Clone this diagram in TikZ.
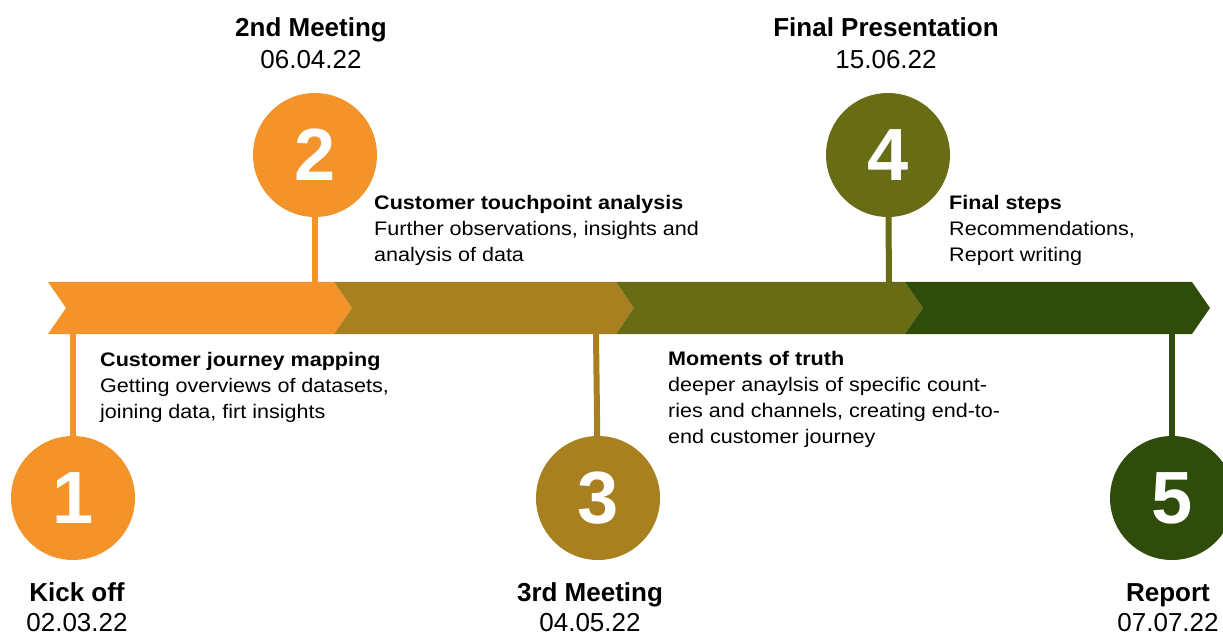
\documentclass[tikz,border=0pt]{standalone}
\usepackage{fontspec}
\setmainfont{Liberation Sans}
\newfontfamily\infofont[FakeStretch=1.1]{Liberation Sans}
\usetikzlibrary{positioning}
\definecolor{phaseA}{HTML}{F4932A}
\definecolor{phaseB}{HTML}{A8801F}
\definecolor{phaseC}{HTML}{676C15}
\definecolor{phaseD}{HTML}{2F4C0B}
\tikzset{
    milestone/.style={circle, minimum size=124pt, inner sep=0pt, text=white,
        font=\fontsize{74}{74}\selectfont\bfseries}, % numbered circles
    stem/.style={line width=6pt}, % line from circle to the band
    title/.style={anchor=base, inner sep=0pt, font=\fontsize{26}{30}\selectfont\bfseries},
    date/.style={anchor=base, inner sep=0pt, font=\fontsize{26}{30}\selectfont},
    info/.style={anchor=north west, align=left, inner sep=0pt,
        font=\infofont\fontsize{19.6}{26}\selectfont},
}
% one arrow segment of the band: colour, left x, right x
\newcommand{\chevron}[3]{\fill[#1] (#2,282) -- (#3,282) -- ++(18,26) -- (#3,334) -- (#2,334) -- ++(18,-26) -- cycle;}

\begin{document}
\begin{tikzpicture}[x=1pt, y=-1pt]
    \useasboundingbox (0,0) rectangle (1223,636);

    % the band
    \chevron{phaseA}{48}{334}
    \chevron{phaseB}{334}{616}
    \chevron{phaseC}{616}{905}
    \chevron{phaseD}{905}{1192}

    % where the stems meet the band
    \coordinate (b1) at (73,334);
    \coordinate (b2) at (315,282);
    \coordinate (b3) at (596,334);
    \coordinate (b4) at (889,282);
    \coordinate (b5) at (1172,334);

    % milestones
    \node[milestone, fill=phaseA] (c1) at (73,498) {1};
    \node[milestone, fill=phaseA] (c2) at (315,155) {2};
    \node[milestone, fill=phaseB] (c3) at (598,498) {3};
    \node[milestone, fill=phaseC] (c4) at (888,155) {4};
    \node[milestone, fill=phaseD] (c5) at (1172,498) {5};

    \draw[stem, phaseA] (c1) -- (b1);
    \draw[stem, phaseA] (c2) -- (b2);
    \draw[stem, phaseB] (c3) -- (b3);
    \draw[stem, phaseC] (c4) -- (b4);
    \draw[stem, phaseD] (c5) -- (b5);

    % titles and dates
    \node[title] (t1) at (77,601) {Kick off};
    \node[date] (d1) at (77,631) {02.03.22};
    \node[title] (t2) at (311,37) {2nd Meeting};
    \node[date] (d2) at (311,69) {06.04.22};
    \node[title] (t3) at (590,601) {3rd Meeting};
    \node[date] (d3) at (590,631) {04.05.22};
    \node[title] (t4) at (886,37) {Final Presentation};
    \node[date] (d4) at (886,69) {15.06.22};
    \node[title] (t5) at (1168,601) {Report};
    \node[date] (d5) at (1168,631) {07.07.22};

    % phase descriptions
    \node[info] (i1) at (100,352) {\textbf{Customer journey mapping}\\Getting overviews of datasets,\\joining data, firt insights};
    \node[info] (i2) at (374,195) {\textbf{Customer touchpoint analysis}\\Further observations, insights and\\analysis of data};
    \node[info] (i3) at (668,351) {\textbf{Moments of truth}\\deeper anaylsis of specific count-\\ries and channels, creating end-to-\\end customer journey};
    \node[info] (i4) at (949,195) {\textbf{Final steps}\\Recommendations,\\Report writing};
\end{tikzpicture}
\end{document}
